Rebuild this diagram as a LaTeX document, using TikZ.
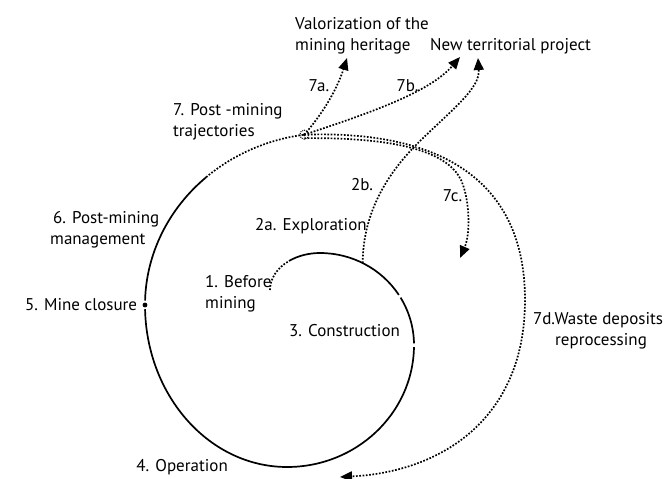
\documentclass[tikz,border=0pt]{standalone}
\usepackage{fontspec}
\setmainfont{PT Sans}
\usetikzlibrary{arrows.meta,calc}
\begin{document}
\begin{tikzpicture}[x=1pt,y=-1pt,
  lbl/.style={font=\fontsize{17}{21.5}\selectfont, inner sep=0pt},
  stage/.style={line width=1.7pt},
  trail/.style={line width=1.7pt, dash pattern=on 1.7pt off 1.6pt},
  flow/.style={trail, -{Triangle[length=12pt,width=10pt]}},
]
\useasboundingbox (0,0) rectangle (669,479);

% centres of the quarter arcs that make up the life-cycle spiral
\coordinate (c0) at (320,290);
\coordinate (c1) at (320,345);
\coordinate (c2) at (287,345);
\coordinate (c3) at (287,305);
\coordinate (c4) at (330,305);

% stage boundaries along the spiral
\coordinate (s1)  at ($(c0)+(180:50 and 37)$);
\coordinate (s2)  at ($(c0)+(232:50 and 37)$);
\coordinate (x2b) at ($(c1)+(-63:94 and 92)$);
\coordinate (s3)  at ($(c1)+(-31:94 and 92)$);
\coordinate (s4)  at ($(c2)+(1:127 and 122)$);
\coordinate (s5)  at ($(c3)+(180:142 and 162)$);
\coordinate (s6)  at ($(c4)+(181.5:185 and 172)$);
\coordinate (s7)  at ($(c4)+(228:185 and 172)$);

% 1. before mining
\draw[trail] (s1) arc[start angle=180, end angle=232, x radius=50, y radius=37];
% 2a. exploration
\draw[stage] (s2) arc[start angle=232, end angle=270, x radius=50, y radius=37]
                  arc[start angle=-90, end angle=-33, x radius=94, y radius=92];
% 3. construction
\draw[stage] (s3) arc[start angle=-31, end angle=-1, x radius=94, y radius=92];
% 4. operation, down to mine closure
\draw[stage] (s4) arc[start angle=1, end angle=90, x radius=127, y radius=122]
                  arc[start angle=90, end angle=178.5, x radius=142, y radius=162];
% 5. mine closure
\fill (s5) circle (2.4);
% 6. post-mining management
\draw[stage] (s6) arc[start angle=181.5, end angle=228, x radius=185, y radius=172];
% 7. post-mining trajectories
\draw[trail] (s7) arc[start angle=228, end angle=262, x radius=185, y radius=172];

\node[circle, minimum size=9pt, inner sep=0pt, draw, line width=1pt,
      dash pattern=on 1pt off 1pt] (n7) at ($(c4)+(262:185 and 172)$) {};
\fill (n7.center) circle (1.6);

% 7d. waste deposits reprocessing
\draw[flow] (n7.center) .. controls (440,130) and (525,180) .. (525,300)
                        .. controls (525,420) and (440,472) .. (340,477);
% 7c.
\draw[flow] ($(n7.center)+(0,3.5)$) .. controls (420,137) and (455,160) .. (463,185)
                        .. controls (470,205) and (470,235) .. (460,258);
% 7a. and 7b.
\draw[flow] (n7.center) .. controls (330,105) and (340,80) .. (347,58);
\draw[flow] (n7.center) .. controls (370,113) and (430,92) .. (460,57);

% 2b. from exploration to a new territorial project
\newcommand\exproute{(x2b) .. controls (363,215) and (385,175) .. (420,141)
                     .. controls (455,107) and (480,88) .. (478,58)}
\begin{scope}
  \clip (422,145) circle (6);
  \draw[white, line width=6pt] \exproute;
\end{scope}
\draw[flow] \exproute;

% labels
\node[lbl, anchor=base west] (tv1) at (295,29) {Valorization of the};
\node[lbl, anchor=base west] (tv2) at (295,50.5) {mining heritage};
\node[lbl, anchor=base west] (tnp) at (430,50.5) {New territorial project};
\node[lbl, anchor=base] (t7a) at (319,91.5) {7a.};
\node[lbl, anchor=base] (t7b) at (407.5,91.5) {7b.};
\node[lbl, anchor=base west] (t71) at (173,115) {7. Post -mining};
\node[lbl, anchor=base west] (t72) at (173,136.5) {trajectories};
\node[lbl, anchor=base] (t2b) at (362,190) {2b.};
\node[lbl, anchor=base] (t7c) at (452.5,201) {7c.};
\node[lbl, anchor=base west] (t61) at (53,223) {6. Post-mining};
\node[lbl, anchor=base west] (t62) at (50,244) {management};
\node[lbl, anchor=base west] (t2a) at (255,230) {2a. Exploration};
\node[lbl, anchor=base west] (t11) at (205,287.5) {1. Before};
\node[lbl, anchor=base west] (t12) at (205,308.5) {mining};
\node[lbl, anchor=base west] (t5) at (25,310) {5. Mine closure};
\node[lbl, anchor=base west] (t3) at (289,336.5) {3. Construction};
\node[lbl, anchor=base] (t7d1) at (598,324) {7d.Waste deposits};
\node[lbl, anchor=base] (t7d2) at (601,345) {reprocessing};
\node[lbl, anchor=base east] (t4) at (228,471) {4. Operation};
\end{tikzpicture}
\end{document}
